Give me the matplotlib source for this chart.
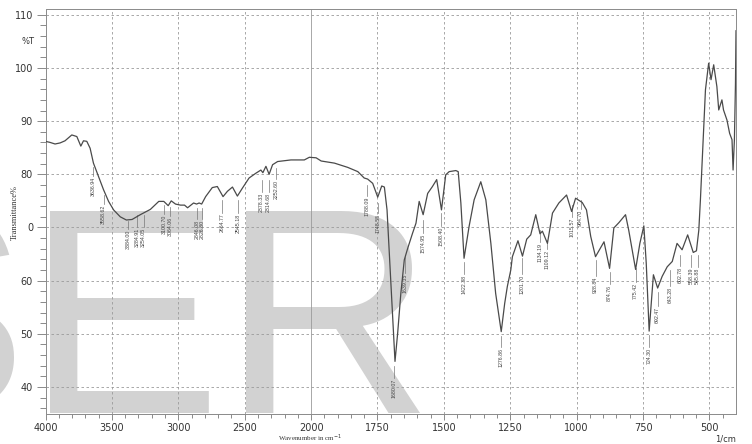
import matplotlib
matplotlib.use("Agg")
import matplotlib.pyplot as plt
import numpy as np

# spectrum (wavenumber in 1/cm, transmittance in %)
wavenumber = [4000, 3966, 3928, 3890, 3853, 3802, 3764, 3734, 3714, 3689,
              3664, 3639, 3601, 3563, 3525, 3487, 3437, 3391, 3348, 3286,
              3210, 3147, 3109, 3076, 3053, 3021, 2983, 2953, 2930, 2885,
              2862, 2843, 2824, 2794, 2744, 2706, 2663, 2630, 2592, 2555,
              2517, 2467, 2416, 2378, 2363, 2340, 2316, 2290, 2252, 2152,
              2051, 2013, 1981, 1962, 1912, 1862, 1824, 1800, 1787, 1768,
              1749, 1734, 1724, 1714, 1702, 1684, 1674, 1662, 1649, 1636,
              1618, 1605, 1593, 1578, 1561, 1543, 1527, 1509, 1493, 1480,
              1455, 1446, 1436, 1424, 1405, 1386, 1361, 1342, 1323, 1305,
              1284, 1271, 1261, 1248, 1242, 1221, 1204, 1188, 1173, 1154,
              1138, 1129, 1110, 1091, 1067, 1038, 1019, 1004, 979, 963,
              947, 929, 914, 897, 876, 860, 841, 816, 804, 778,
              762, 747, 738, 727, 711, 695, 678, 659, 640, 622,
              603, 582, 561, 549, 540, 534, 515, 503, 494, 484,
              472, 465, 453, 447, 434, 424, 415, 411, 406, 402,
              400]
transmittance = [86.2, 86.0, 85.7, 85.9, 86.3, 87.4, 87.1, 85.3, 86.3, 86.2,
                 84.9, 82.1, 79.6, 77.1, 74.9, 73.3, 72.0, 71.4, 71.5, 72.4,
                 73.4, 74.9, 74.9, 74.1, 75.0, 74.4, 74.2, 74.2, 73.7, 74.6,
                 74.4, 74.6, 74.4, 75.8, 77.5, 77.7, 75.8, 76.8, 77.6, 75.9,
                 77.4, 79.3, 80.2, 80.8, 80.3, 81.5, 80.0, 81.8, 82.4, 82.7,
                 82.7, 83.2, 83.1, 82.5, 82.1, 81.3, 80.5, 79.3, 79.1, 78.3,
                 75.7, 77.8, 77.6, 73.3, 62.0, 44.8, 50.1, 57.6, 63.9, 66.1,
                 68.9, 70.8, 74.9, 72.4, 76.4, 77.7, 79.0, 73.3, 79.9, 80.5,
                 80.7, 80.5, 74.6, 64.2, 70.2, 75.2, 78.6, 75.2, 67.0, 57.6,
                 50.4, 55.7, 58.9, 62.0, 64.5, 67.5, 64.6, 67.8, 68.6, 72.4,
                 68.8, 69.3, 67.0, 72.7, 74.6, 76.1, 73.0, 75.5, 74.7, 73.3,
                 68.3, 64.5, 65.8, 67.3, 62.3, 69.9, 70.9, 72.4, 69.5, 62.1,
                 67.0, 70.3, 63.3, 50.5, 61.1, 58.6, 60.8, 62.6, 63.6, 67.0,
                 65.8, 68.6, 65.3, 65.6, 69.5, 75.2, 95.9, 100.9, 97.8, 100.6,
                 96.5, 92.1, 94.0, 92.1, 90.2, 87.7, 86.5, 80.8, 86.5, 97.0,
                 107.0]

# peak picks printed by the instrument: label, where it sits on the axis,
# top of its leader line and top of its text (in %T)
peak_labels = ["3636.94", "3558.62", "3384.00", "3284.91", "3254.05", "3100.70",
               "3064.06", "2846.08", "2826.80", "2664.77", "2545.18", "2378.33",
               "2314.68", "2252.60", "1788.09", "1748.55", "1680.07", "1639.35",
               "1574.95", "1508.40", "1422.38", "1276.86", "1201.70", "1134.19",
               "1109.12", "1015.57", "984.70", "928.84", "874.76", "775.42",
               "724.30", "692.47", "643.28", "602.78", "558.39", "545.88"]
peak_pos = [3643, 3563, 3379, 3311, 3261, 3109,
            3064, 2857, 2819, 2668, 2550, 2373,
            2320, 2261, 1791, 1749, 1689, 1645,
            1578, 1509, 1424, 1283, 1204, 1138,
            1110, 1019, 985, 929, 876, 778,
            727, 695, 647, 609, 568, 544]
peak_line_top = [81.4, 76.1, 71.2, 72.4, 72.4, 74.2, 73.9, 73.7, 73.7, 75.2,
                 75.2, 79.0, 79.0, 81.2, 78.0, 74.6, 44.0, 64.5, 71.4, 72.7,
                 63.5, 49.6, 64.3, 69.5, 67.7, 74.2, 75.2, 63.9, 61.6, 62.4,
                 49.8, 57.9, 62.0, 64.8, 64.8, 64.8]
peak_text_top = [79.5, 74.2, 69.5, 69.9, 69.9, 72.4, 72.0, 71.4, 71.4, 72.6,
                 72.6, 76.5, 76.5, 79.0, 75.8, 72.6, 41.5, 61.3, 68.8, 70.1,
                 61.1, 47.3, 61.1, 67.1, 65.8, 71.8, 73.3, 60.7, 59.2, 59.6,
                 47.3, 55.1, 58.8, 62.6, 62.4, 62.4]

x_major = [4000, 3500, 3000, 2500, 2000, 1750, 1500, 1250, 1000, 750, 500]
y_major = [40, 50, 60, 70, 80, 90, 100, 110]
y_labels = ["40", "50", "60", "0", "80", "90", "100", "110"]


def fwd(w):
    # instrument plots 4000-2000 at half the scale of 2000-400
    w = np.asarray(w, dtype=float)
    return np.where(w >= 2000, 2000 + (w - 2000) / 2, w)


def inv(u):
    u = np.asarray(u, dtype=float)
    return np.where(u >= 2000, 2000 + (u - 2000) * 2, u)


W, H = 752, 444
fig = plt.figure(figsize=(W / 100, H / 100), dpi=100)
ax = fig.add_axes([45.5 / W, (H - 413.5) / H, (736 - 45.5) / W, 404 / H])
ax.patch.set_alpha(0)

# watermark, drawn behind the axes
wm = dict(family="Liberation Sans", fontsize=211, color="#d2d2d2",
          va="baseline", zorder=-5)
fig.text(27 / W, (H - 413) / H, "S", ha="right", **wm)
fig.text(26 / W, (H - 413) / H, "E", ha="left", **wm)
fig.text(222 / W, (H - 413) / H, "R", ha="left", **wm)

ax.set_xscale("function", functions=(fwd, inv))
ax.set_xlim(4000, 400)
ax.set_ylim(35, 111)

grid_col = "#9a9a9a"
for w in x_major[1:]:
    if w == 2000:
        ax.axvline(w, color=grid_col, lw=0.6, zorder=1)
    else:
        ax.axvline(w, color=grid_col, lw=0.6, ls=(0, (3, 3)), zorder=1)
for t in y_major:
    ax.axhline(t, color=grid_col, lw=0.6, ls=(0, (3, 3)), zorder=1)

ax.plot(wavenumber, transmittance, color="#4a4a4a", lw=0.9, zorder=3)

for lab, w, top, ttop in zip(peak_labels, peak_pos, peak_line_top, peak_text_top):
    ax.plot([w, w], [top, ttop + 0.2], color="#777777", lw=0.5, zorder=2)
    ax.text(w, ttop, lab, rotation=90, ha="center", va="top", fontsize=3.8,
            color="#444444", family="Liberation Sans", zorder=2)

ax.set_xticks(x_major)
ax.set_xticklabels([str(v) for v in x_major])
ax.set_xticks(list(range(3900, 2000, -100)) + list(range(1950, 400, -50)),
              minor=True)
ax.set_yticks(y_major)
ax.set_yticklabels(y_labels)
ax.set_yticks(list(range(36, 111, 2)), minor=True)

ax.tick_params(axis="both", which="both", colors="#777777", width=0.6,
               labelcolor="#333333", labelsize=7)
ax.tick_params(axis="y", which="major", length=6.5, pad=2.5)
ax.tick_params(axis="y", which="minor", length=4)
ax.tick_params(axis="x", which="major", length=4, pad=3)
ax.tick_params(axis="x", which="minor", length=3)
for s in ax.spines.values():
    s.set_color("#8a8a8a")
    s.set_linewidth(0.7)

fig.text(28 / W, 1 - 42 / H, "%T", ha="center", va="center", fontsize=6,
         color="#333333")
fig.text(15 / W, 1 - 213 / H, "Transmittance%", rotation=90, ha="center",
         va="center", fontsize=6, family="Liberation Serif", color="#333333")
fig.text(310 / W, 1 - 438 / H, "Wavenumber in cm$^{-1}$", ha="center",
         va="center", fontsize=5, family="Liberation Serif", color="#333333")
fig.text(726 / W, 1 - 439 / H, "1/cm", ha="center", va="center", fontsize=6,
         color="#333333")

fig.savefig("out.png", dpi=100, facecolor="white")
